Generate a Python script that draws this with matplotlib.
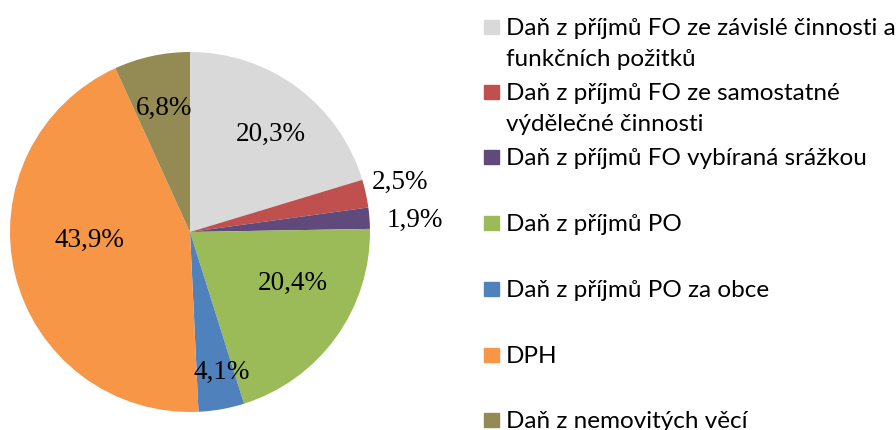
import matplotlib
matplotlib.use("Agg")
import matplotlib.pyplot as plt
import numpy as np
from matplotlib.patches import Rectangle

# data
labels = [
    "Daň z příjmů FO ze závislé činnosti a\nfunkčních požitků",
    "Daň z příjmů FO ze samostatné\nvýdělečné činnosti",
    "Daň z příjmů FO vybíraná srážkou",
    "Daň z příjmů PO",
    "Daň z příjmů PO za obce",
    "DPH",
    "Daň z nemovitých věcí",
]
shares = [20.3, 2.5, 1.9, 20.4, 4.1, 43.9, 6.8]
colors = ["#D9D9D9", "#C0504D", "#604A7B", "#9BBB59", "#4F81BD", "#F79646", "#948A54"]

# label placement (fraction of radius, angle tweak in degrees)
label_dist = [0.70, 1.20, 1.25, 0.64, 0.80, 0.56, 0.70]
label_dtheta = [-3.0, 1.0, -1.5, 9.0, 2.5, -9.0, -0.5]

W, H = 896, 430
fig = plt.figure(figsize=(W / 100, H / 100), dpi=100)
ax = fig.add_axes([10 / W, (H - 412) / H, 360 / W, 360 / H])

wedges, _ = ax.pie(shares, colors=colors, startangle=90, counterclock=False,
                   wedgeprops=dict(linewidth=0))
ax.set_xlim(-1, 1)
ax.set_ylim(-1, 1)
ax.set_aspect("equal")
ax.axis("off")

for w, v, d, dt in zip(wedges, shares, label_dist, label_dtheta):
    th = np.deg2rad((w.theta1 + w.theta2) / 2 + dt)
    ax.text(d * np.cos(th), d * np.sin(th), f"{v:.1f}%".replace(".", ","),
            ha="center", va="center", fontsize=19.5, family="Liberation Serif")

# legend, drawn by hand to match the wrapped layout
baselines = [35, 100, 165, 231, 297, 363, 428]
for lab, c, yb in zip(labels, colors, baselines):
    fig.patches.append(Rectangle((484 / W, 1 - (yb - 1) / H), 15 / W, 14 / H,
                                 transform=fig.transFigure, color=c))
    lines = lab.split("\n")
    for i, ln in enumerate(lines):
        fig.text(506 / W, 1 - (yb + i * 31) / H, ln, fontsize=17.5, family="Lato",
                 va="baseline", ha="left")

fig.savefig("out.png", dpi=100)
